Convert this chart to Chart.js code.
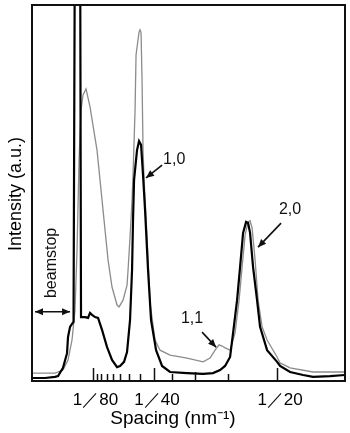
<!DOCTYPE html>
<html>
<head>
<meta charset="utf-8">
<script src="https://cdn.jsdelivr.net/npm/chart.js@4/dist/chart.umd.min.js"></script>
<style>
  html, body { margin: 0; padding: 0; background: #fff; }
  #wrap { width: 350px; height: 433px; }
</style>
</head>
<body>
<div id="wrap"><canvas id="chart" width="350" height="433"></canvas></div>
<script>
// spacing in 1e-3 nm^-1, intensity in arbitrary units (frame = 0..100)
const spacingBlack = [0.20, 2.85, 4.88, 5.49, 6.50, 7.32, 7.52, 7.93, 8.33, 8.64, 8.94, 9.96, 10.16, 10.98,
  11.59, 11.99, 12.40, 13.01, 13.62, 14.43, 15.45, 16.46, 17.48, 18.09, 18.90, 19.51, 20.12, 20.53, 20.73,
  20.94, 21.54, 21.95, 22.36, 22.76, 23.17, 23.78, 24.39, 25.41, 26.63, 28.25, 31.71, 34.96, 36.99, 38.41,
  39.43, 40.45, 41.06, 41.87, 42.48, 43.09, 43.70, 44.11, 44.51, 45.12, 45.93, 46.54, 47.97, 50.00, 50.61,
  52.64, 55.28, 57.32, 60.77, 63.82];
const intensityBlack = [0.8, 0.8, 1.1, 1.3, 3.5, 7.4, 11.7, 14.4, 15.2, 15.7, 130, 130, 17.0, 17.0,
  16.8, 18.1, 17.6, 17.0, 16.8, 13.6, 9.0, 5.6, 3.7, 4.0, 5.1, 7.7, 16.2, 29.5, 42.8,
  53.5, 61.4, 63.8, 62.8, 54.8, 45.5, 29.5, 16.2, 8.2, 4.0, 2.4, 2.1, 1.9, 2.1, 2.9,
  4.0, 6.4, 12.8, 21.5, 30.3, 39.4, 42.3, 42.0, 39.4, 30.3, 21.5, 14.4, 8.2, 5.1, 4.0,
  2.4, 1.6, 1.1, 1.3, 1.6];

const spacingGray = [0.20, 4.88, 6.50, 7.52, 8.33, 8.94, 9.35, 9.76, 10.16, 10.57, 11.18, 11.99, 13.41,
  14.63, 15.65, 16.46, 17.48, 17.89, 18.70, 19.51, 19.72, 20.12, 20.53, 20.73, 21.14, 21.34, 21.95, 22.15,
  22.36, 22.56, 22.76, 22.97, 23.58, 24.19, 25.20, 26.22, 28.25, 31.71, 34.96, 36.38, 37.40, 38.21, 38.82,
  39.43, 40.45, 41.46, 42.28, 42.89, 43.50, 44.11, 44.51, 44.92, 45.53, 46.14, 46.95, 47.97, 50.00, 50.61,
  52.64, 57.32, 63.82];
const intensityGray = [2.1, 2.1, 2.9, 5.6, 10.9, 18.9, 34.8, 58.8, 72.1, 76.1, 77.7, 72.9, 61.4,
  45.5, 32.2, 25.0, 20.2, 19.7, 21.5, 25.5, 29.5, 38.3, 48.1, 54.8, 72.1, 86.7, 92.8, 93.4,
  92.6, 80.1, 61.4, 53.5, 38.3, 20.7, 10.9, 8.2, 6.9, 6.1, 5.1, 6.1, 8.2, 9.6, 9.3,
  8.8, 8.2, 12.8, 21.5, 30.3, 38.8, 42.3, 42.6, 40.7, 32.2, 21.5, 14.4, 10.9, 6.4, 4.8,
  3.5, 2.4, 2.4];

// d-spacing (nm) of the tick marks on the spacing axis, labelled ones separately
const tickDs = [80, 75, 70, 65, 60, 55, 50, 45, 40, 35, 30, 25, 20];
const labelDs = [80, 40, 20];

const FONT = '"Liberation Sans", Arial, Helvetica, sans-serif';

// annotations, anchored in data units
const notes = [
  { text: '1,0', at: [26.83, 58.8], align: 'left', from: [26.63, 57.4], to: [23.37, 54.0] },
  { text: '2,0', at: [52.64, 45.7], align: 'center', from: [50.81, 42.0], to: [46.14, 35.6] },
  { text: '1,1', at: [32.72, 16.5], align: 'center', from: [34.76, 13.0], to: [37.60, 9.0] }
];

function arrowHead(ctx, x1, y1, x2, y2) {
  const a = Math.atan2(y2 - y1, x2 - x1), L = 8, W = 3.5;
  ctx.beginPath();
  ctx.moveTo(x2, y2);
  ctx.lineTo(x2 - L * Math.cos(a) + W * Math.sin(a), y2 - L * Math.sin(a) - W * Math.cos(a));
  ctx.lineTo(x2 - L * Math.cos(a) - W * Math.sin(a), y2 - L * Math.sin(a) + W * Math.cos(a));
  ctx.closePath();
  ctx.fill();
}

function arrow(ctx, x1, y1, x2, y2, both) {
  ctx.beginPath();
  ctx.moveTo(x1, y1);
  ctx.lineTo(x2, y2);
  ctx.stroke();
  arrowHead(ctx, x1, y1, x2, y2);
  if (both) arrowHead(ctx, x2, y2, x1, y1);
}

const extras = {
  id: 'extras',
  afterDraw(chart) {
    const { ctx, chartArea: a, scales: { x, y } } = chart;
    ctx.save();
    ctx.strokeStyle = '#111';
    ctx.fillStyle = '#111';

    // inward tick marks on the bottom axis
    ctx.lineWidth = 1.5;
    tickDs.forEach(d => {
      const px = Math.round(x.getPixelForValue(1000 / d)) + 0.5;
      const len = labelDs.includes(d) ? 13 : (d === 30 ? 9 : 7);
      ctx.beginPath();
      ctx.moveTo(px, a.bottom);
      ctx.lineTo(px, a.bottom - len);
      ctx.stroke();
    });

    // frame
    ctx.lineWidth = 2;
    ctx.strokeRect(a.left, a.top, a.right - a.left, a.bottom - a.top);

    // peak labels and arrows
    ctx.lineWidth = 1.6;
    ctx.font = '16px ' + FONT;
    ctx.textBaseline = 'middle';
    notes.forEach(n => {
      ctx.textAlign = n.align;
      ctx.fillText(n.text, x.getPixelForValue(n.at[0]), y.getPixelForValue(n.at[1]));
      arrow(ctx, x.getPixelForValue(n.from[0]), y.getPixelForValue(n.from[1]),
        x.getPixelForValue(n.to[0]), y.getPixelForValue(n.to[1]), false);
    });

    // beamstop
    const by = y.getPixelForValue(18.4);
    arrow(ctx, x.getPixelForValue(0.81), by, x.getPixelForValue(7.93), by, true);
    ctx.save();
    ctx.translate(x.getPixelForValue(4.27), y.getPixelForValue(31.4));
    ctx.rotate(-Math.PI / 2);
    ctx.textAlign = 'center';
    ctx.fillText('beamstop', 0, 0);
    ctx.restore();

    // axis titles
    ctx.fillStyle = '#000';
    ctx.font = '19px ' + FONT;
    ctx.textAlign = 'center';
    ctx.textBaseline = 'alphabetic';
    ctx.fillText('Spacing (nm\u207B\u00B9)', 173, 424);
    ctx.font = '18px ' + FONT;
    ctx.save();
    ctx.translate(21, 194);
    ctx.rotate(-Math.PI / 2);
    ctx.fillText('Intensity (a.u.)', 0, 0);
    ctx.restore();
    ctx.restore();
  }
};

const toPoints = (xs, ys) => xs.map((v, i) => ({ x: v, y: ys[i] }));

new Chart(document.getElementById('chart').getContext('2d'), {
  type: 'line',
  data: {
    datasets: [
      {
        label: 'black',
        data: toPoints(spacingBlack, intensityBlack),
        borderColor: '#000',
        borderWidth: 2.2,
        pointRadius: 0,
        tension: 0,
        clip: 0,
        order: 0
      },
      {
        label: 'gray',
        data: toPoints(spacingGray, intensityGray),
        borderColor: '#8c8c8c',
        borderWidth: 1.3,
        pointRadius: 0,
        tension: 0,
        clip: 0,
        order: 1
      }
    ]
  },
  options: {
    responsive: false,
    animation: false,
    devicePixelRatio: 1,
    layout: { padding: { left: 32, right: 5, top: 5, bottom: 0 } },
    plugins: { legend: { display: false }, tooltip: { enabled: false } },
    scales: {
      x: {
        type: 'linear',
        min: 0.2,
        max: 63.8,
        grid: { display: false, drawTicks: false },
        border: { display: false },
        afterBuildTicks: s => { s.ticks = tickDs.map(d => ({ value: 1000 / d })); },
        afterFit: s => { s.height = 52; },
        ticks: {
          autoSkip: false,
          maxRotation: 0,
          padding: 9,
          labelOffset: 3,
          color: '#000',
          font: { size: 17, family: FONT },
          callback: v => {
            const d = Math.round(1000 / v);
            return labelDs.includes(d) ? '1\uFF0F' + d : '';
          }
        }
      },
      y: { display: false, min: 0, max: 100 }
    }
  },
  plugins: [extras]
});
</script>
</body>
</html>
